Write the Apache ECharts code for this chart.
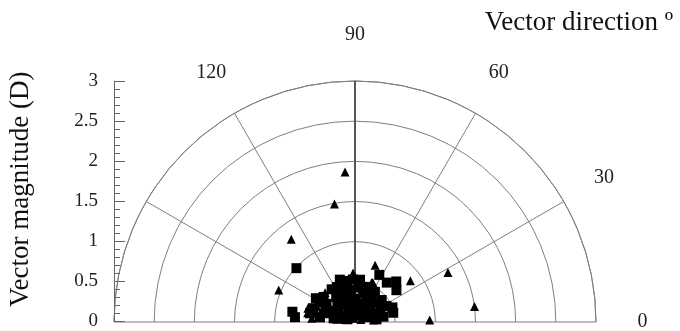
<!DOCTYPE html>
<html>
<head>
<meta charset="utf-8">
<script src="https://cdn.jsdelivr.net/npm/echarts@6/dist/echarts.min.js"></script>
<style>
  html, body { margin: 0; padding: 0; background: #fff; }
  #chart { width: 680px; height: 331px; }
</style>
</head>
<body>
<div id="chart"></div>
<script>
// Radial (magnitude) ticks and angular (direction) ticks
const magTicks = [0, 0.5, 1, 1.5, 2, 2.5, 3];
const dirTicks = [0, 30, 60, 90, 120, 150, 180];
const dirLabels = ['0', '30', '60', '90', '120', '', ''];

// [magnitude (D), direction (deg)]
const squareData = [
  [0.99, 137.4], [0.79, 170.7], [0.75, 175.4], [0.66, 62.7], [0.63, 51.1],
  [0.72, 44.5], [0.65, 37.5], [0.50, 21.3], [0.49, 13.6], [0.56, 109.7],
  [0.52, 100.6], [0.53, 83.2], [0.50, 125.5], [0.57, 148.7], [0.50, 141.4],
  [0.36, 98.5], [0.37, 73.9], [0.45, 56.6], [0.43, 39.5], [0.55, 161.8],
  [0.28, 131.4], [0.27, 45.6], [0.35, 25.6], [0.36, 10.6], [0.37, 162.9],
  [0.44, 172.4], [0.27, 170.3], [0.16, 155.6], [0.09, 76.0], [0.16, 21.9],
  [0.27, 7.1], [0.24, 75.0], [0.22, 106.4], [0.32, 112.9], [0.29, 90.0],
  [0.33, 63.7], [0.39, 126.9], [0.42, 147.5], [0.50, 151.1], [0.57, 169.0],
  [0.16, 51.0], [0.25, 25.4], [0.44, 26.8], [0.26, 144.3], [0.17, 119.0],
  [0.17, 90.0], [0.49, 117.4], [0.46, 71.7], [0.34, 52.8], [0.43, 84.6],
  [0.42, 110.0], [0.12, 140.0], [0.20, 35.0], [0.10, 160.0], [0.06, 120.0],
  [0.53, 93.0], [0.47, 104.0], [0.31, 135.0], [0.21, 60.0], [0.38, 40.0],
  [0.30, 16.0], [0.20, 165.0], [0.33, 155.0], [0.46, 64.0], [0.40, 97.0]
];

const triangleData = [
  [1.87, 93.8], [1.49, 99.9], [1.30, 127.6], [1.03, 157.2], [0.75, 70.5],
  [0.86, 36.7], [1.31, 28.0], [1.50, 7.4], [0.93, 1.5], [0.61, 92.3],
  [0.51, 78.8], [0.53, 67.0], [0.59, 162.7], [0.44, 160.0], [0.60, 169.0],
  [0.49, 82.7], [0.52, 135.7], [0.61, 163.7], [0.51, 158.2], [0.54, 81.1],
  [0.54, 65.8], [0.54, 175.0], [0.13, 166.0], [0.08, 22.0], [0.23, 6.0],
  [0.23, 171.6], [0.39, 154.0], [0.15, 98.0], [0.40, 62.4]
];

const serif = '"Liberation Serif", "DejaVu Serif", serif';
const gridGray = '#7f7f7f';

const chart = echarts.init(document.getElementById('chart'), null, { renderer: 'canvas' });

const option = {
  animation: false,
  backgroundColor: '#fff',
  title: {
    text: 'Vector direction º',
    right: 2,
    top: 4,
    textStyle: { fontFamily: serif, fontSize: 27, fontWeight: 'normal', color: '#111' }
  },
  grid: { left: 114, top: 81, width: 10, height: 241 },
  xAxis: { type: 'value', show: false, min: 0, max: 1 },
  yAxis: {
    type: 'value',
    min: magTicks[0],
    max: magTicks[magTicks.length - 1],
    interval: 0.5,
    name: 'Vector magnitude (D)',
    nameLocation: 'middle',
    nameRotate: 90,
    nameGap: 80,
    nameTextStyle: { fontFamily: serif, fontSize: 27, color: '#111', padding: [0, 0, 0, 24] },
    axisLine: { show: true, lineStyle: { color: '#666', width: 1 } },
    axisTick: { show: true, inside: true, length: 11, lineStyle: { color: '#666' } },
    minorTick: { show: true, splitNumber: 5, length: 6, lineStyle: { color: '#666' } },
    splitLine: { show: false },
    axisLabel: {
      margin: 16, fontFamily: serif, fontSize: 19, color: '#222',
      formatter: v => String(v)
    }
  },
  polar: { center: [355, 322], radius: 241 },
  angleAxis: {
    type: 'value',
    min: dirTicks[0],
    max: dirTicks[dirTicks.length - 1],
    interval: 30,
    startAngle: 0,
    endAngle: 180,
    clockwise: false,
    axisLine: { show: true, lineStyle: { color: gridGray, width: 1 } },
    axisTick: { show: false },
    axisLabel: { show: false },
    splitLine: { show: true, lineStyle: { color: gridGray, width: 1 } }
  },
  radiusAxis: {
    type: 'value',
    min: magTicks[0],
    max: magTicks[magTicks.length - 1],
    interval: 0.5,
    axisLine: { show: false },
    axisTick: { show: false },
    axisLabel: { show: false },
    splitLine: { show: true, lineStyle: { color: gridGray, width: 1 } }
  },
  series: [
    {
      // emphasised vertical (90 deg) spoke
      type: 'line',
      coordinateSystem: 'polar',
      data: [[magTicks[0], dirTicks[3]], [magTicks[magTicks.length - 1], dirTicks[3]]],
      symbol: 'none',
      lineStyle: { color: '#555', width: 2 },
      z: 1,
      silent: true
    },
    {
      name: 'squares',
      type: 'scatter',
      coordinateSystem: 'polar',
      data: squareData,
      symbol: 'rect',
      symbolSize: 10,
      itemStyle: { color: '#000', opacity: 1 },
      z: 3
    },
    {
      name: 'triangles',
      type: 'scatter',
      coordinateSystem: 'polar',
      data: triangleData,
      symbol: 'triangle',
      symbolSize: 9,
      itemStyle: { color: '#000', opacity: 1 },
      z: 4
    }
  ]
};

chart.setOption(option);

// Direction labels placed just beyond the outer arc along each spoke
const labelRadius = 3.58;
const graphics = [];
dirTicks.forEach((d, i) => {
  if (!dirLabels[i]) return;
  const p = chart.convertToPixel({ seriesIndex: 1 }, [labelRadius, d]);
  if (!p) return;
  graphics.push({
    type: 'text',
    x: p[0],
    y: p[1],
    style: {
      text: dirLabels[i],
      fontFamily: serif,
      fontSize: 20,
      fill: '#222',
      align: 'center',
      verticalAlign: 'middle'
    }
  });
});
chart.setOption({ graphic: graphics });
</script>
</body>
</html>
